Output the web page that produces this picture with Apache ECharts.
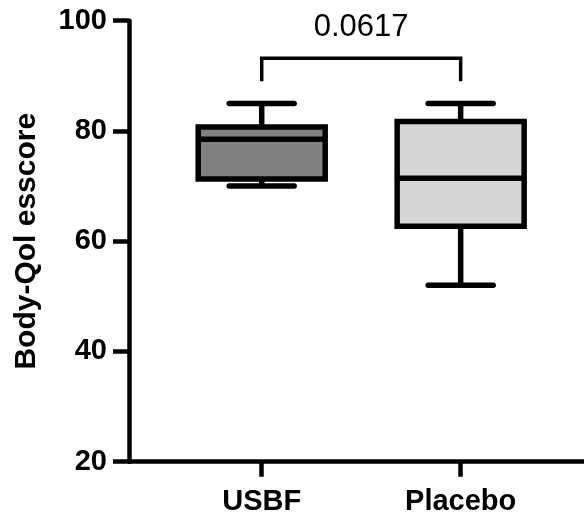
<!DOCTYPE html>
<html>
<head>
<meta charset="utf-8">
<script src="https://cdn.jsdelivr.net/npm/echarts@6/dist/echarts.min.js"></script>
<style>
  html, body { margin: 0; padding: 0; background: #fff; }
  #chart { width: 584px; height: 518px; }
</style>
</head>
<body>
<div id="chart"></div>
<script>
// groups and where they sit on the x axis
const categories = ['USBF', 'Placebo'];
const xPos = [1, 2];

// box-and-whisker values (Body-Qol esscore)
const mins = [70, 52];
const q1s = [71.3, 62.7];
const medians = [78.5, 71.4];
const q3s = [80.7, 81.7];
const maxs = [85, 85];

// comparison bracket
const pValue = '0.0617';
const bracketLow = 89;
const bracketHigh = 93.2;
const pLabelY = 98.7;

const yTicks = [20, 40, 60, 80, 100];

const boxColors = ['#808080', '#d6d6d6'];
const FONT = 'Liberation Sans, Arial, sans-serif';
const BOX_W = 127;
const CAP_W = 65;
const LW = 5.5;

const chartDom = document.getElementById('chart');
const myChart = echarts.init(chartDom);

const boxData = xPos.map((x, i) => [x, mins[i], q1s[i], medians[i], q3s[i], maxs[i]]);

function renderBox(params, api) {
  const x = api.value(0);
  const pMin = api.coord([x, api.value(1)]);
  const pQ1 = api.coord([x, api.value(2)]);
  const pMed = api.coord([x, api.value(3)]);
  const pQ3 = api.coord([x, api.value(4)]);
  const pMax = api.coord([x, api.value(5)]);
  const cx = pMed[0];
  const half = BOX_W / 2;
  const capHalf = CAP_W / 2;
  const line = (x1, y1, x2, y2, cap) => ({
    type: 'line',
    shape: { x1, y1, x2, y2 },
    style: { stroke: '#000', lineWidth: LW, lineCap: cap || 'butt' },
  });
  return {
    type: 'group',
    children: [
      line(cx, pMax[1], cx, pQ3[1]),
      line(cx, pMin[1], cx, pQ1[1]),
      line(cx - capHalf, pMax[1], cx + capHalf, pMax[1], 'round'),
      line(cx - capHalf, pMin[1], cx + capHalf, pMin[1], 'round'),
      {
        type: 'rect',
        shape: { x: cx - half, y: pQ3[1], width: BOX_W, height: pQ1[1] - pQ3[1] },
        style: { fill: boxColors[params.dataIndex], stroke: '#000', lineWidth: LW },
      },
      line(cx - half, pMed[1], cx + half, pMed[1]),
    ],
  };
}

function renderBracket(params, api) {
  const a = api.coord([api.value(0), api.value(2)]);
  const b = api.coord([api.value(0), api.value(3)]);
  const c = api.coord([api.value(1), api.value(3)]);
  const d = api.coord([api.value(1), api.value(2)]);
  const t = api.coord([(api.value(0) + api.value(1)) / 2, api.value(4)]);
  return {
    type: 'group',
    children: [
      {
        type: 'polyline',
        shape: { points: [a, b, c, d] },
        style: { stroke: '#000', lineWidth: 3.5, fill: null },
      },
      {
        type: 'text',
        x: t[0],
        y: t[1],
        style: {
          text: pValue,
          font: '31px ' + FONT,
          fill: '#000',
          align: 'center',
          verticalAlign: 'middle',
        },
      },
    ],
  };
}

myChart.setOption({
  animation: false,
  backgroundColor: '#fff',
  grid: { left: 129, right: 0, top: 20.7, bottom: 56.3, outerBoundsMode: 'none' },
  xAxis: {
    type: 'value',
    min: 0.333,
    max: 2.62,
    splitLine: { show: false },
    axisLine: { show: true, lineStyle: { color: '#000', width: 4.5 } },
    axisTick: {
      show: true,
      length: 15,
      customValues: xPos,
      lineStyle: { color: '#000', width: 4.5 },
    },
    axisLabel: {
      customValues: xPos,
      margin: 26,
      color: '#000',
      fontFamily: FONT,
      fontWeight: 'bold',
      fontSize: 29,
      formatter: (v) => categories[xPos.indexOf(Math.round(v))] || '',
    },
  },
  yAxis: {
    type: 'value',
    min: yTicks[0],
    max: yTicks[yTicks.length - 1],
    interval: 20,
    name: 'Body-Qol esscore',
    nameLocation: 'middle',
    nameGap: 87,
    nameTextStyle: { color: '#000', fontFamily: FONT, fontWeight: 'bold', fontSize: 30 },
    splitLine: { show: false },
    axisLine: { show: true, lineStyle: { color: '#000', width: 4.5 } },
    axisTick: { show: true, length: 16, lineStyle: { color: '#000', width: 4.5 } },
    axisLabel: {
      margin: 22,
      color: '#000',
      fontFamily: FONT,
      fontWeight: 'bold',
      fontSize: 29,
    },
  },
  series: [
    {
      type: 'custom',
      renderItem: renderBox,
      data: boxData,
      clip: false,
      z: 3,
    },
    {
      type: 'custom',
      renderItem: renderBracket,
      data: [[xPos[0], xPos[1], bracketLow, bracketHigh, pLabelY]],
      clip: false,
      z: 3,
    },
  ],
});
</script>
</body>
</html>
